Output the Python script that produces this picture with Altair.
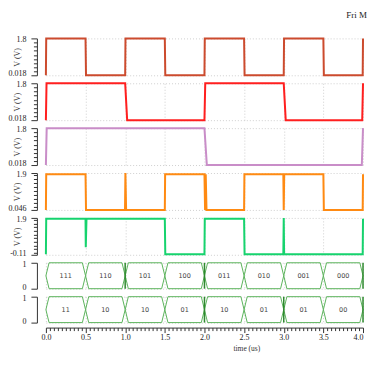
import altair as alt
import pandas as pd

# ---------------- data ----------------
TITLE_TEXT = "Fri M"
Y_TITLE = "V (V)"
X_TITLE = "time (us)"

# signal 1 (brown-red clock)
s1_t = [0.0, 0.004, 0.5, 0.506, 1.0, 1.004, 1.5, 1.506, 2.0, 2.004, 2.5, 2.506,
        3.0, 3.004, 3.5, 3.506, 3.996, 4.0]
s1_v = [0.018, 1.8, 1.8, 0.018, 0.018, 1.8, 1.8, 0.018, 0.018, 1.8, 1.8, 0.018,
        0.018, 1.8, 1.8, 0.018, 0.018, 1.8]

# signal 2 (red)
s2_t = [0.0, 0.008, 1.0, 1.025, 2.0, 2.01, 3.0, 3.025, 3.99, 4.0]
s2_v = [0.018, 1.8, 1.8, 0.018, 0.018, 1.8, 1.8, 0.018, 0.018, 1.8]

# signal 3 (violet)
s3_t = [0.0, 0.01, 2.0, 2.03, 3.985, 4.0]
s3_v = [0.018, 1.8, 1.8, 0.018, 0.018, 1.8]

# signal 4 (orange)
s4_t = [0.0, 0.004, 0.5, 0.506, 0.998, 1.003, 1.012, 1.5, 1.504, 2.0, 2.008,
        2.016, 2.026, 2.5, 2.504, 2.995, 3.0, 3.006, 3.5, 3.506, 3.996, 4.0]
s4_v = [0.046, 1.84, 1.84, 0.046, 0.046, 1.9, 0.046, 0.046, 1.84, 1.84, 0.046,
        1.84, 0.046, 0.046, 1.84, 1.84, 0.046, 1.84, 1.84, 0.046, 0.046, 1.84]

# signal 5 (green)
s5_t = [0.0, 0.004, 0.5, 0.503, 0.512, 1.5, 1.506, 2.0, 2.004, 2.5, 2.506,
        2.995, 3.0, 3.005, 3.996, 4.0]
s5_v = [-0.08, 1.85, 1.85, 0.3, 1.85, 1.85, -0.08, -0.08, 1.85, 1.85, -0.08,
        -0.08, 1.9, -0.08, -0.08, 1.85]

# buses (segment boundaries, values)
bus_edges = [0.0, 0.5, 1.0, 1.5, 2.0, 2.5, 3.0, 3.5, 4.0]
bus1_label = ["111", "110", "101", "100", "011", "010", "001", "000"]
bus1_glitch = [1.0, 2.0, 4.0]
bus2_label = ["11", "10", "10", "01", "10", "01", "01", "00"]
bus2_glitch = [2.0, 3.0, 4.0]

# axis ticks
y18_major = [0.018, 1.8]
y18_labels = ["0.018", "1.8"]
y18_minor = [0.2, 0.4, 0.6, 0.8, 1.0, 1.2, 1.4, 1.6]
y19_major = [0.046, 1.9]
y19_labels = ["0.046", "1.9"]
y19_minor = [0.2, 0.4, 0.6, 0.8, 1.0, 1.2, 1.4, 1.6, 1.8]
y5_major = [-0.11, 1.9]
y5_labels = ["-0.11", "1.9"]
y5_minor = [0.0, 0.2, 0.4, 0.6, 0.8, 1.0, 1.2, 1.4, 1.6, 1.8]
bus_major = [0, 1]
bus_labels = ["0", "1"]
x_major = [0.0, 0.5, 1.0, 1.5, 2.0, 2.5, 3.0, 3.5, 4.0]
x_labels = ["0.0", "0.5", "1.0", "1.5", "2.0", "2.5", "3.0", "3.5", "4.0"]
x_minor = [round(i * 0.05, 2) for i in range(81)]

# ---------------- layout ----------------
W = 318
H_SIG = 37
H_BUS = 26
X_END = 4.0
HEX_D = 0.04

FONT = "Liberation Serif"


def test_expr(vals):
    return " || ".join(f"abs(datum.value - ({v})) < 1e-9" for v in vals)


def label_expr(vals, labels):
    expr = "''"
    for v, s in zip(vals, labels):
        expr = f"abs(datum.value - ({v})) < 1e-9 ? '{s}' : ({expr})"
    return expr


def x_enc(show):
    scale = alt.Scale(domain=[0.0, X_END], nice=False, zero=False)
    if show:
        test = test_expr(x_major)
        axis = alt.Axis(
            values=sorted(set(x_minor + x_major)),
            labelExpr=label_expr(x_major, x_labels),
            tickSize={"condition": {"test": test, "value": 5}, "value": 3},
            gridOpacity={"condition": {"test": test, "value": 1}, "value": 0},
            labelAlign={"condition": {"test": f"datum.value >= {X_END} - 1e-9",
                                      "value": "right"}, "value": "center"},
            grid=True, offset=5, labelPadding=1, labelFlush=False,
            labelOverlap=False, title=X_TITLE, titleX=201, titleY=21,
            titleFontSize=7.5, titleBaseline="middle", titleAlign="center",
        )
    else:
        axis = alt.Axis(values=x_major, labels=False, ticks=False,
                        domain=False, grid=True, title=None)
    return alt.X("t:Q", scale=scale, axis=axis)


def y_enc(major, labels, minor, h, title):
    test = test_expr(major)
    lo, hi = major[0], major[-1]
    kw = dict(
        values=sorted(set(major + minor)),
        labelExpr=label_expr(major, labels),
        tickSize={"condition": {"test": test, "value": 6}, "value": 3.5},
        gridOpacity={"condition": {"test": test, "value": 1}, "value": 0},
        labelOffset={"condition": {"test": f"abs(datum.value - ({hi})) < 1e-9",
                                   "value": 1.5},
                     "value": -1.5},
        grid=True, offset=9, labelPadding=5, labelFlush=False,
        labelOverlap=False,
    )
    if title:
        kw.update(title=title, titleX=-19, titleY=h / 2, titleAngle=270,
                  titleAlign="center", titleBaseline="middle")
    else:
        kw.update(title=None)
    scale = alt.Scale(domain=[lo, hi], nice=False, zero=False)
    return alt.Y("y:Q", scale=scale, axis=alt.Axis(**kw))


def signal_panel(t, v, color, major, labels, minor):
    df = pd.DataFrame({"t": t, "y": v, "i": list(range(len(t)))})
    return alt.Chart(df).mark_line(color=color, strokeWidth=2).encode(
        x=x_enc(False),
        y=y_enc(major, labels, minor, H_SIG, Y_TITLE),
        order="i:Q",
    ).properties(width=W, height=H_SIG)


def bus_panel(labels, glitches, show_x):
    rows = []
    for k in range(len(bus_edges) - 1):
        a, b = bus_edges[k], bus_edges[k + 1]
        pts = [(a, 0.5), (a + HEX_D, 1.0), (b - HEX_D, 1.0), (b, 0.5),
               (b - HEX_D, 0.0), (a + HEX_D, 0.0), (a, 0.5)]
        for i, (px, py) in enumerate(pts):
            rows.append({"t": px, "y": py, "seg": k, "i": i})
    hex_df = pd.DataFrame(rows)
    txt_df = pd.DataFrame({
        "t": [(bus_edges[k] + bus_edges[k + 1]) / 2 for k in range(len(labels))],
        "y": [0.5] * len(labels),
        "label": labels,
    })
    gl_df = pd.DataFrame({"t": glitches, "y": [0.0] * len(glitches),
                          "y2": [1.0] * len(glitches)})
    xe = x_enc(show_x)
    ye = y_enc(bus_major, bus_labels, [], H_BUS, None)
    hexes = alt.Chart(hex_df).mark_line(color="#5cb45c", strokeWidth=1).encode(
        x=xe, y=ye, detail="seg:N", order="i:Q")
    gl = alt.Chart(gl_df).mark_rule(color="#2f8a2f", strokeWidth=1.5).encode(
        x=xe, y=ye, y2="y2:Q")
    txt = alt.Chart(txt_df).mark_text(font="DejaVu Sans", fontSize=6.5,
                                      color="#444").encode(
        x=xe, y=ye, text="label:N")
    return alt.layer(hexes, gl, txt).properties(width=W, height=H_BUS)


p1 = signal_panel(s1_t, s1_v, "#cc4b2e", y18_major, y18_labels, y18_minor)
p2 = signal_panel(s2_t, s2_v, "#ff1f1f", y18_major, y18_labels, y18_minor)
p3 = signal_panel(s3_t, s3_v, "#c98dc8", y18_major, y18_labels, y18_minor)
p4 = signal_panel(s4_t, s4_v, "#ff8a12", y19_major, y19_labels, y19_minor)
p5 = signal_panel(s5_t, s5_v, "#16d36e", y5_major, y5_labels, y5_minor)
b1 = bus_panel(bus1_label, bus1_glitch, False)
b2 = bus_panel(bus2_label, bus2_glitch, True)

chart = alt.vconcat(p1, p2, p3, p4, p5, b1, b2, spacing=8, bounds="flush").properties(
    title=alt.TitleParams(TITLE_TEXT, anchor="end", font=FONT, fontSize=9,
                          fontWeight="normal", color="#222", offset=14),
    padding={"left": 0, "top": 3, "right": 0, "bottom": 0},
).configure_view(strokeWidth=0).configure_axis(
    labelFont=FONT, labelFontSize=8, labelColor="#222",
    titleFont=FONT, titleFontSize=8, titleFontWeight="normal", titleColor="#333",
    domainColor="#333", tickColor="#333", gridColor="#cfcfcf", gridDash=[1, 2],
)

chart.save("out.html", embed_options={"renderer": "svg", "actions": False})
